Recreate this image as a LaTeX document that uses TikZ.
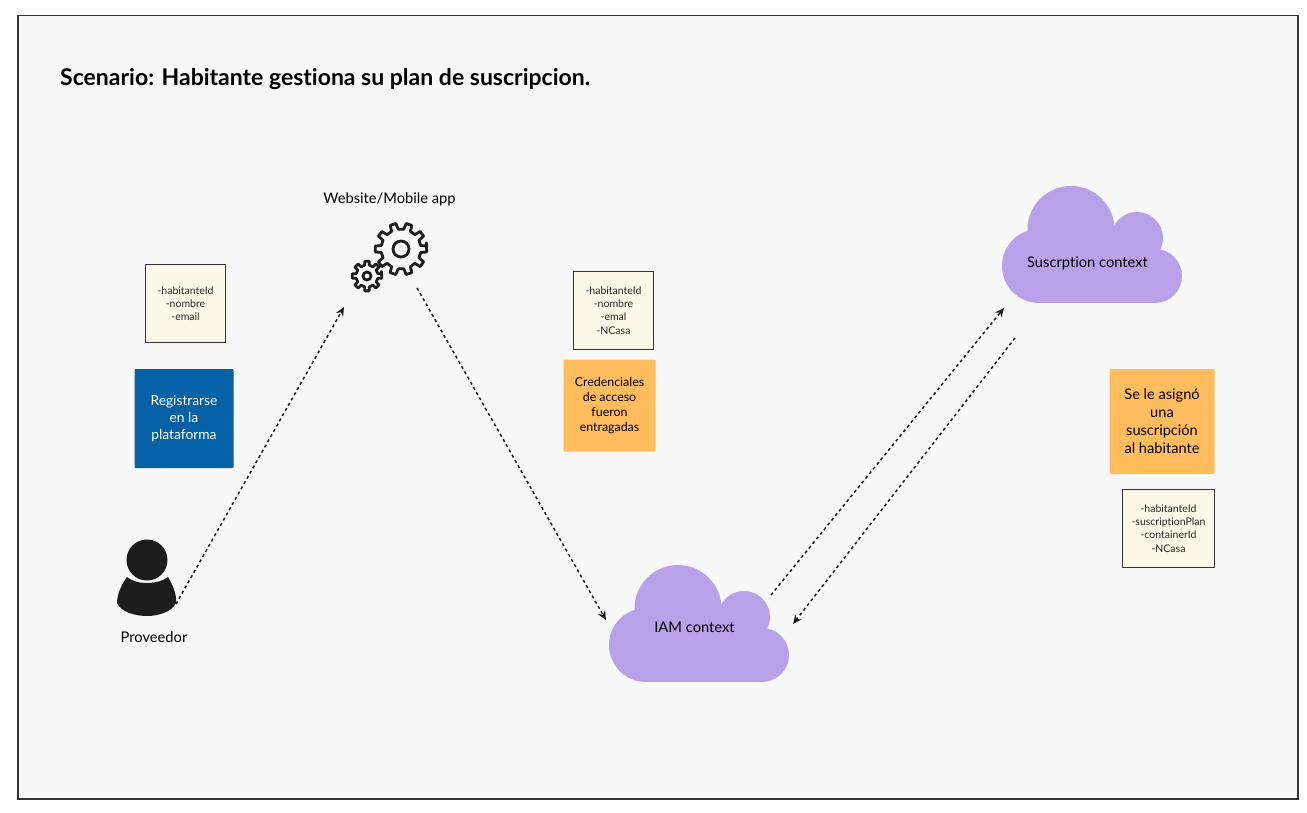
\documentclass[tikz,border=0pt]{standalone}
\usepackage{fontspec}
\setmainfont{Lato}[Ligatures=NoCommon]
\usetikzlibrary{arrows.meta}
\definecolor{framefill}{HTML}{F8F8F8}
\definecolor{frameline}{HTML}{333333}
\definecolor{noteyellow}{HTML}{FDF9E8}
\definecolor{noteorange}{HTML}{FFBD5E}
\definecolor{noteblue}{HTML}{0560A6}
\definecolor{cloudfill}{HTML}{B9A1EA}
\definecolor{iconblack}{HTML}{1D1D1D}
\tikzset{
  attrbox/.style={draw=frameline, line width=1pt, fill=noteyellow, align=center, font=\fontsize{10.5}{13.3}\selectfont, inner sep=0pt, text=black!85},
  stickynote/.style={rounded corners=1pt, align=center, inner sep=0pt},
  flowline/.style={-{Stealth[length=9pt,width=8pt]}, line width=1.5pt, dash pattern=on 3pt off 3pt, draw=iconblack},
  plainlabel/.style={font=\fontsize{14.7}{17}\selectfont, inner sep=0pt},
  cloudshape/.pic={
    \fill[cloudfill] (37,80) circle (37) (69,43.5) circle (43.5) (135,52) circle (26) (153,90) circle (27);
    \fill[cloudfill] (37,70) rectangle (153,117);
    \fill[cloudfill] (60,50) rectangle (140,80);
  },
}
\newcommand{\gearicon}[6]{% x, y, outer r, inner r, hole r, teeth
  \draw[iconblack, line width=2.8pt, line join=round]
    ({#1+#3*cos(-14*10/#6)},{#2+#3*sin(-14*10/#6)})
    \foreach \k in {1,...,#6}{
      -- ({#1+#3*cos(360*\k/#6-360/#6+65/#6)},{#2+#3*sin(360*\k/#6-360/#6+65/#6)})
      -- ({#1+#4*cos(360*\k/#6-360/#6+100/#6)},{#2+#4*sin(360*\k/#6-360/#6+100/#6)})
      -- ({#1+#4*cos(360*\k/#6-360/#6+260/#6)},{#2+#4*sin(360*\k/#6-360/#6+260/#6)})
      -- ({#1+#3*cos(360*\k/#6-360/#6+295/#6)},{#2+#3*sin(360*\k/#6-360/#6+295/#6)})
    } -- cycle;
  \draw[iconblack, line width=2.8pt] (#1,#2) circle (#5);
}

\begin{document}
\begin{tikzpicture}[x=1pt, y=-1pt]
  \useasboundingbox (0,0) rectangle (1307,812);
  \fill[white] (0,0) rectangle (1307,812);
  \draw[draw=frameline, fill=framefill, line width=1.5pt] (18,15.5) rectangle (1298,799);

  \node[anchor=west, inner sep=0pt, font=\fontsize{23}{27}\bfseries\selectfont] (title) at (60,79) {Scenario: Habitante gestiona su plan de suscripcion.};

  % person
  \fill[iconblack] (147,560) circle (20.5);
  \fill[iconblack] (127,577) .. controls (136,585) and (158,585) .. (168,577)
    .. controls (173,585) and (177,595) .. (176,603)
    .. controls (172,612) and (158,616) .. (147,616)
    .. controls (135,616) and (121,612) .. (117,603)
    .. controls (117,595) and (121,585) .. (127,577) -- cycle;
  \node[plainlabel] (proveedor) at (154,637) {Proveedor};

  % gears
  \gearicon{401}{249}{26}{20}{8}{10}
  \gearicon{367}{276}{15}{11}{4}{8}
  \node[plainlabel] (app) at (389.5,199.5) {Website/Mobile app};

  % clouds
  \pic at (609,565) {cloudshape};
  \pic at (1002,186) {cloudshape};
  \node[plainlabel] (iam) at (694.5,627) {IAM context};
  \node[plainlabel] (suscripcion) at (1087.5,263) {Suscrption context};

  % notes
  \node[attrbox, minimum width=80pt, minimum height=78pt] (attrsA) at (185.5,303.5) {-habitanteId\\-nombre\\-email};
  \node[stickynote, fill=noteblue, text=white, minimum width=99pt, minimum height=99pt, font=\fontsize{13.8}{17}\selectfont] (registro) at (184,418.5) {Registrarse\\en la\\plataforma};
  \node[attrbox, minimum width=80pt, minimum height=78pt] (attrsB) at (613.5,310.5) {-habitanteId\\-nombre\\-emal\\-NCasa};
  \node[stickynote, fill=noteorange, minimum width=92pt, minimum height=92pt, font=\fontsize{12.4}{15}\selectfont] (credenciales) at (609.5,405.5) {Credenciales\\de acceso\\fueron\\entragadas};
  \node[stickynote, fill=noteorange, minimum width=105pt, minimum height=105pt, font=\fontsize{14.6}{18}\selectfont] (asignada) at (1162,421.5) {Se le asignó\\una\\suscripción\\al habitante};
  \node[attrbox, minimum width=92pt, minimum height=78pt] (attrsC) at (1168.5,528.5) {-habitanteId\\-suscriptionPlan\\-containerId\\-NCasa};

  % connectors
  \coordinate (personEnd) at (176,604);
  \coordinate (appIn) at (344,307);
  \coordinate (appOut) at (417,288);
  \coordinate (iamIn) at (606,620);
  \coordinate (iamOut) at (771,595);
  \coordinate (subIn) at (1004,308);
  \coordinate (subOut) at (1015,338);
  \coordinate (iamBack) at (793,624);
  \draw[flowline] (personEnd) -- (appIn);
  \draw[flowline] (appOut) -- (iamIn);
  \draw[flowline] (iamOut) -- (subIn);
  \draw[flowline] (subOut) -- (iamBack);
\end{tikzpicture}
\end{document}
